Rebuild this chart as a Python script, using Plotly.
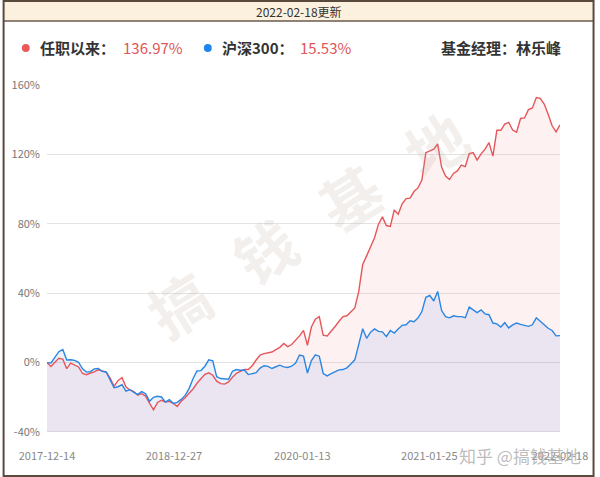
import pandas as pd
import plotly.graph_objects as go

start_date = "2017-12-14"
end_date = "2022-02-18"
update_text = "2022-02-18更新"
manager = "基金经理：林乐峰"
fund_name = "任职以来："
index_name = "沪深300："

fund_return = [
    0, -2.3, 0.2, 2.5, 2.0, -3.5, -0.3, -1.4, -2.5, -6.3, -7.0, -6.0, -5.4, -4.1, -5.0, -5.5,
    -9.0, -13.6, -10.4, -8.6, -14.0, -15.8, -16.7, -18.8, -17.9, -19.3, -23.5, -27.2, -23.0, -21.7,
    -22.7, -22.3, -23.5, -25.3, -22.3, -20.3, -17.7, -15.2, -11.9, -9.6, -6.8, -5.9, -7.3, -10.7,
    -12.1, -12.4, -11.1, -8.5, -6.2, -5.1, -4.0, -4.0, -1.8, 1.5, 4.4, 5.2, 5.6, 6.1, 7.5, 8.8,
    11.0, 9.2, 10.4, 12.7, 15.4, 18.6, 10.0, 20.5, 25.0, 26.5, 15.8, 15.3, 17.8, 20.8, 23.8, 26.5,
    27.0, 29.3, 31.5, 41.0, 56.5, 61.5, 66.5, 72.0, 79.8, 84.0, 79.0, 78.5, 88.0, 85.5, 91.5, 94.5,
    94.8, 98.6, 100.7, 105.2, 121.0, 122.0, 123.0, 126.0, 112.7, 107.5, 105.5, 109.0, 110.5, 113.8,
    113.0, 120.5, 121.0, 116.7, 120.3, 123.0, 126.8, 119.0, 134.0, 133.9, 137.5, 138.5, 134.0, 132.8,
    140.7, 141.0, 145.8, 146.8, 152.8, 152.3, 149.0, 143.2, 136.5, 133.0, 136.97,
]

hs300_return = [
    0, -0.2, 3.0, 6.3, 7.5, 1.5, 1.6, 1.3, 0.2, -3.6, -5.5, -5.2, -3.6, -3.4, -5.1, -5.4,
    -10.0, -14.5, -13.9, -12.7, -16.5, -15.5, -17.2, -18.3, -16.7, -17.9, -22.3, -20.0, -19.4, -19.8,
    -22.7, -21.3, -23.5, -22.9, -21.2, -18.9, -15.0, -9.3, -4.8, -4.6, -2.1, 1.6, 1.0, -8.1,
    -9.2, -9.2, -9.6, -5.0, -4.0, -4.4, -4.3, -6.9, -6.5, -5.8, -3.2, -1.8, -2.2, -3.4, -2.4, -1.5,
    -2.5, -2.8, -2.1, -0.3, 4.4, 3.8, -6.0, 1.2, 4.5, 3.7, -6.3, -7.7, -6.4, -5.3, -4.2, -4.0,
    -3.0, -0.8, 1.6, 10.5, 19.5, 14.0, 17.5, 19.4, 18.0, 17.7, 15.0, 18.5, 17.0, 19.3, 21.5, 21.8,
    24.1, 23.6, 25.7, 29.4, 37.6, 38.7, 35.5, 41.0, 30.0, 26.5, 25.8, 27.0, 26.5, 26.5,
    25.9, 32.0, 30.5, 28.8, 30.4, 28.1, 27.6, 22.8, 22.3, 20.5, 23.0, 20.0, 21.7, 22.8,
    22.0, 21.4, 20.9, 21.8, 25.8, 23.8, 21.8, 19.8, 18.5, 15.4, 15.53,
]

y_ticks = [-40, 0, 40, 80, 120, 160]
x_tick_dates = ["2017-12-14", "2018-12-27", "2020-01-13", "2021-01-25", "2022-02-18"]

dates = pd.date_range(start_date, end_date, periods=len(fund_return))
baseline = [min(y_ticks)] * len(dates)

W, H = 600, 477
L, R, T, B = 45, 35, 85, 45


def px(x):
    return (x - L) / (W - L - R)


def py(y):
    return (H - B - y) / (H - T - B)


RED = "#e5575a"
BLUE = "#2a86e2"
FONT = "Noto Sans CJK SC"

fig = go.Figure()
fig.add_trace(go.Scatter(x=dates, y=baseline, mode="lines", line=dict(width=0), hoverinfo="skip", showlegend=False))
fig.add_trace(go.Scatter(x=dates, y=fund_return, mode="lines", line=dict(width=0), fill="tonexty",
                         fillcolor="rgba(232,70,70,0.075)", showlegend=False))
fig.add_trace(go.Scatter(x=dates, y=baseline, mode="lines", line=dict(width=0), hoverinfo="skip", showlegend=False))
fig.add_trace(go.Scatter(x=dates, y=hs300_return, mode="lines", line=dict(width=0), fill="tonexty",
                         fillcolor="rgba(70,130,235,0.10)", showlegend=False))
fig.add_trace(go.Scatter(x=dates, y=fund_return, mode="lines", line=dict(color=RED, width=1.4), showlegend=False))
fig.add_trace(go.Scatter(x=dates, y=hs300_return, mode="lines", line=dict(color=BLUE, width=1.4), showlegend=False))

shapes = [
    dict(type="rect", xref="paper", yref="paper", x0=px(1), x1=px(599), y0=py(1), y1=py(21),
         fillcolor="#fcf1de", line=dict(width=0), layer="below"),
    dict(type="line", xref="paper", yref="paper", x0=px(1), x1=px(599), y0=py(21), y1=py(21),
         line=dict(color="#6b5a4e", width=1.5)),
    dict(type="rect", xref="paper", yref="paper", x0=px(1), x1=px(599), y0=py(1), y1=py(476),
         line=dict(color="#5a4a3e", width=2)),
    dict(type="circle", xref="paper", yref="paper", x0=px(19.5), x1=px(27.5), y0=py(44), y1=py(52),
         fillcolor="#ec5a58", line=dict(width=0)),
    dict(type="circle", xref="paper", yref="paper", x0=px(204), x1=px(212), y0=py(44), y1=py(52),
         fillcolor="#1f85ee", line=dict(width=0)),
]

annotations = [
    dict(text=update_text, x=px(300), y=py(11), xref="paper", yref="paper", showarrow=False,
         font=dict(family=FONT, size=12, color="#333333"), xanchor="center", yanchor="middle"),
    dict(text="<b>" + fund_name + "</b>", x=px(36), y=py(48), xref="paper", yref="paper", showarrow=False,
         font=dict(family=FONT, size=15, color="#333333"), xanchor="left", yanchor="middle"),
    dict(text=f"{fund_return[-1]:.2f}%", x=px(120), y=py(48), xref="paper", yref="paper", showarrow=False,
         font=dict(family=FONT, size=15, color="#e05556"), xanchor="left", yanchor="middle"),
    dict(text="<b>" + index_name + "</b>", x=px(220), y=py(48), xref="paper", yref="paper", showarrow=False,
         font=dict(family=FONT, size=15, color="#333333"), xanchor="left", yanchor="middle"),
    dict(text=f"{hs300_return[-1]:.2f}%", x=px(299), y=py(48), xref="paper", yref="paper", showarrow=False,
         font=dict(family=FONT, size=15, color="#e05556"), xanchor="left", yanchor="middle"),
    dict(text="<b>" + manager + "</b>", x=px(568), y=py(48), xref="paper", yref="paper", showarrow=False,
         font=dict(family=FONT, size=15, color="#333333"), xanchor="right", yanchor="middle"),
    dict(text="<b>搞   钱   基   地</b>", x=px(308), y=py(222), xref="paper", yref="paper", showarrow=False,
         textangle=-32, font=dict(family=FONT, size=60, color="rgba(190,165,155,0.18)"),
         xanchor="center", yanchor="middle"),
    dict(text="知乎 @搞钱基地", x=px(588), y=py(455), xref="paper", yref="paper", showarrow=False,
         font=dict(family=FONT, size=17, color="rgba(175,175,175,0.85)"), xanchor="right", yanchor="middle"),
]

fig.update_layout(
    width=W, height=H,
    margin=dict(l=L, r=R, t=T, b=B),
    paper_bgcolor="white", plot_bgcolor="white",
    font=dict(family=FONT),
    shapes=shapes, annotations=annotations,
    hovermode=False,
    xaxis=dict(
        type="date", range=[start_date, end_date],
        tickvals=x_tick_dates, ticktext=x_tick_dates,
        showgrid=False, zeroline=False, showline=False, ticks="",
        tickfont=dict(family=FONT, size=11, color="#888888"),
        ticklabelstandoff=16,
    ),
    yaxis=dict(
        range=[min(y_ticks), max(y_ticks)],
        tickvals=y_ticks, ticktext=[f"{v}%" for v in y_ticks],
        showgrid=True, gridcolor="#e3e3e3", gridwidth=1,
        zeroline=False, showline=False, ticks="",
        tickfont=dict(family=FONT, size=11, color="#777777"),
        ticklabelstandoff=6,
    ),
)
fig.add_shape(type="line", xref="paper", yref="y", x0=0, x1=1, y0=min(y_ticks), y1=min(y_ticks),
              line=dict(color="#c9c3cc", width=1))

fig.write_html("out.html")
